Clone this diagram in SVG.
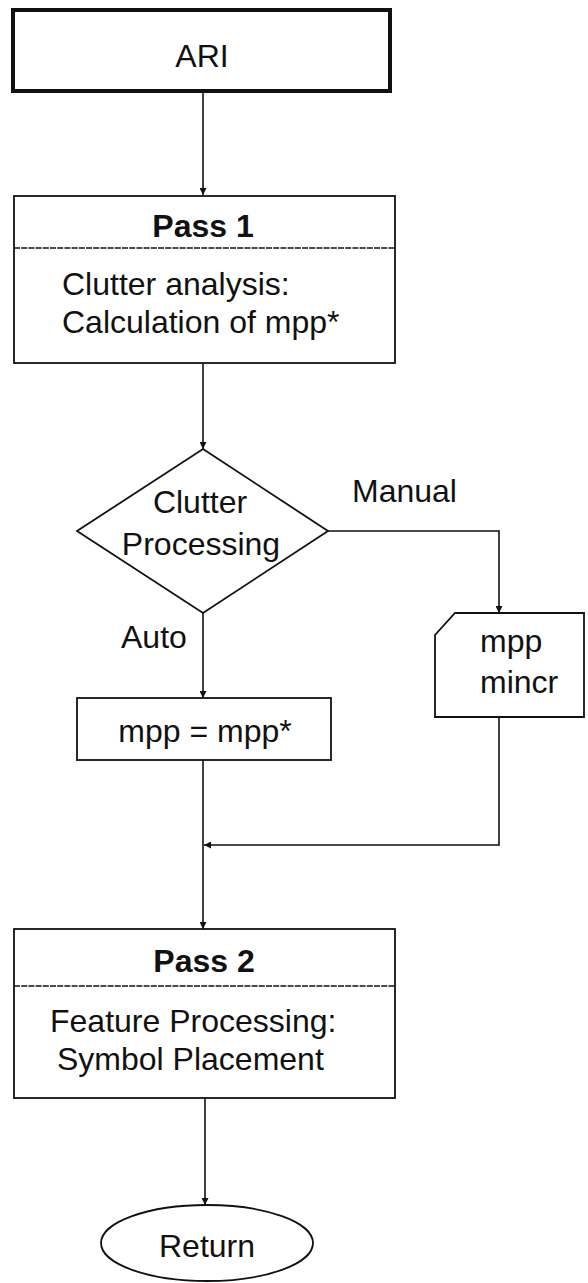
<svg xmlns="http://www.w3.org/2000/svg" width="588" height="1283" viewBox="0 0 588 1283">
  <style>
    .box { fill: #ffffff; stroke: #111111; stroke-width: 1.8; }
    .thick { fill: #ffffff; stroke: #111111; stroke-width: 4; }
    .div { stroke: #111111; stroke-width: 1.6; stroke-dasharray: 6 1.2; fill: none; }
    .line { fill: none; stroke: #111111; stroke-width: 1.6; }
    .t { font-family: "Liberation Sans", Arial, Helvetica, sans-serif; font-size: 32px; fill: #111111; }
    .b { font-weight: bold; }
    .c { text-anchor: middle; }
  </style>
  <defs>
    <marker id="arrow" viewBox="0 0 10 10" refX="10" refY="5" markerWidth="7" markerHeight="7" markerUnits="userSpaceOnUse" orient="auto">
      <path d="M0,0 L10,5 L0,10 z" fill="#111111"/>
    </marker>
  </defs>

  <rect width="588" height="1283" fill="#ffffff"/>

  <!-- connectors -->
  <g id="connectors">
    <line class="line" x1="203" y1="93" x2="203" y2="195" marker-end="url(#arrow)"/>
    <line class="line" x1="203" y1="364" x2="203" y2="449" marker-end="url(#arrow)"/>
    <line class="line" x1="203" y1="613" x2="203" y2="698" marker-end="url(#arrow)"/>
    <polyline class="line" points="328,531 499,531 499,613" marker-end="url(#arrow)"/>
    <line class="line" x1="203" y1="760" x2="203" y2="929" marker-end="url(#arrow)"/>
    <polyline class="line" points="499,717 499,845 204,845" marker-end="url(#arrow)"/>
    <line class="line" x1="205" y1="1098" x2="205" y2="1205" marker-end="url(#arrow)"/>
  </g>

  <!-- start block -->
  <g id="ari">
    <rect class="thick" x="13" y="10" width="377" height="81"/>
    <text class="t c" x="202" y="67">ARI</text>
  </g>

  <!-- first pass -->
  <g id="pass1">
    <rect class="box" x="14" y="196" width="381" height="167"/>
    <line class="div" x1="14" y1="248" x2="395" y2="248"/>
    <text class="t b c" x="203" y="237">Pass 1</text>
    <text class="t" x="62" y="295">Clutter analysis:</text>
    <text class="t" x="62" y="333">Calculation of mpp*</text>
  </g>

  <!-- decision -->
  <g id="decision">
    <polygon class="box" points="203,449 328,531 203,613 77,531"/>
    <text class="t c" x="200" y="513">Clutter</text>
    <text class="t c" x="201" y="555">Processing</text>
  </g>

  <g id="label-manual">
    <text class="t" x="352" y="502">Manual</text>
  </g>
  <g id="label-auto">
    <text class="t" x="121" y="648">Auto</text>
  </g>

  <!-- automatic setting -->
  <g id="auto-set">
    <rect class="box" x="77" y="698" width="254" height="62"/>
    <text class="t c" x="205" y="742">mpp = mpp*</text>
  </g>

  <!-- manual input card -->
  <g id="manual-input">
    <path class="box" d="M455,613 L584,613 L584,717 L435,717 L435,635 Z"/>
    <text class="t" x="480" y="652">mpp</text>
    <text class="t" x="480" y="693">mincr</text>
  </g>

  <!-- second pass -->
  <g id="pass2">
    <rect class="box" x="14" y="929" width="381" height="169"/>
    <line class="div" x1="14" y1="986" x2="395" y2="986"/>
    <text class="t b c" x="204" y="972">Pass 2</text>
    <text class="t" x="50" y="1032">Feature Processing:</text>
    <text class="t" x="57" y="1070">Symbol Placement</text>
  </g>

  <!-- terminator -->
  <g id="return">
    <ellipse class="box" cx="207" cy="1243" rx="106" ry="38"/>
    <text class="t c" x="207" y="1257">Return</text>
  </g>
</svg>
